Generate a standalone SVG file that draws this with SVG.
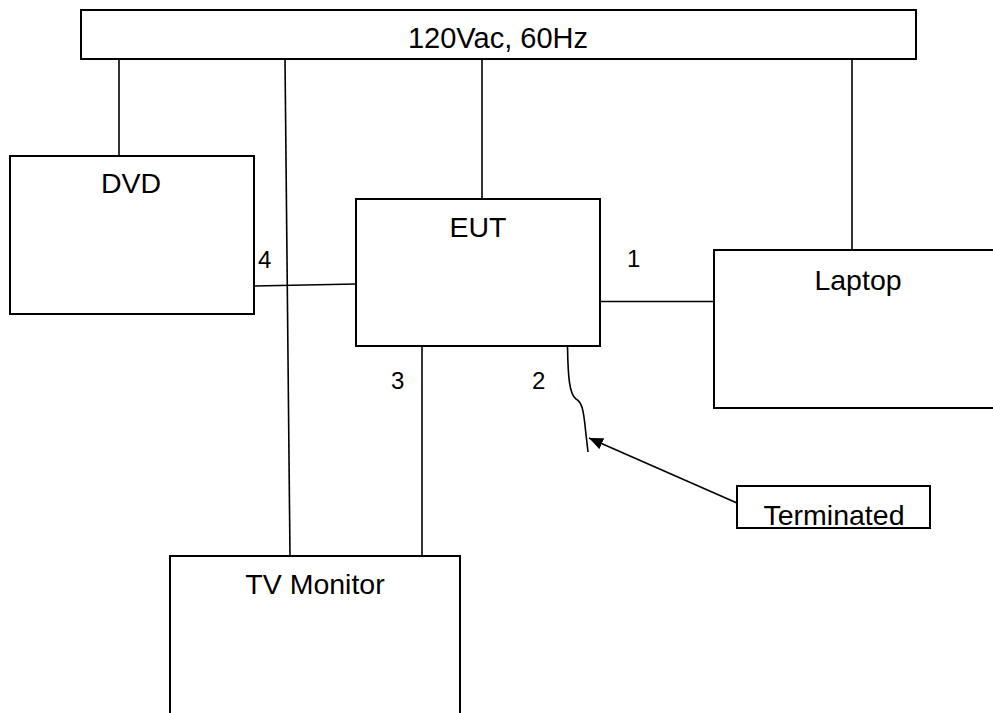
<svg xmlns="http://www.w3.org/2000/svg" width="993" height="713" viewBox="0 0 993 713">
<style>
.box{fill:#fff;stroke:#000;stroke-width:2}
.ln{fill:none;stroke:#000;stroke-width:1.6}
text{font-family:"Liberation Sans",Arial,sans-serif;font-size:28.5px;fill:#000}
.c{text-anchor:middle}
.lbl{font-size:24px}
</style>
<defs>
<marker id="ah" viewBox="0 0 14 12" refX="14" refY="6" markerWidth="14" markerHeight="12" markerUnits="userSpaceOnUse" orient="auto"><path d="M0,0 L14,6 L0,12 z" fill="#000"/></marker>
</defs>
<rect width="993" height="713" fill="#fff"/>
<g id="connectors">
<line class="ln" x1="119" y1="59" x2="119" y2="156"/>
<line class="ln" x1="285" y1="59" x2="290" y2="556"/>
<line class="ln" x1="482" y1="59" x2="482" y2="199"/>
<line class="ln" x1="852" y1="59" x2="852" y2="250"/>
<line class="ln" x1="254" y1="286" x2="356" y2="284"/>
<line class="ln" x1="600" y1="301.5" x2="714" y2="301.5"/>
<line class="ln" x1="422" y1="346" x2="422" y2="556"/>
<path class="ln" d="M567.5,346 C568,378 569.5,394 576,399 C582,402 583.5,410 585.5,430 L588,452"/>
<line class="ln" x1="737" y1="503" x2="589" y2="438" marker-end="url(#ah)" stroke-width="2"/>
<text class="lbl" x="258" y="268">4</text>
<text class="lbl" x="627" y="267">1</text>
<text class="lbl" x="391" y="389">3</text>
<text class="lbl" x="532" y="389">2</text>
</g>
<g id="power">
<rect class="box" x="81" y="10" width="835" height="49"/>
<text class="c" x="498" y="48" style="font-size:29px">120Vac, 60Hz</text>
</g>
<g id="dvd">
<rect class="box" x="10" y="156" width="244" height="158"/>
<text class="c" x="131" y="193">DVD</text>
</g>
<g id="eut">
<rect class="box" x="356" y="199" width="244" height="147"/>
<text class="c" x="478" y="237">EUT</text>
</g>
<g id="laptop">
<rect class="box" x="714" y="250" width="290" height="158"/>
<text class="c" x="858" y="290">Laptop</text>
</g>
<g id="tv">
<rect class="box" x="170" y="556" width="290" height="170"/>
<text class="c" x="315" y="594">TV Monitor</text>
</g>
<g id="terminated">
<rect class="box" x="737" y="486" width="193" height="42"/>
<text class="c" x="834" y="525">Terminated</text>
</g>
</svg>
